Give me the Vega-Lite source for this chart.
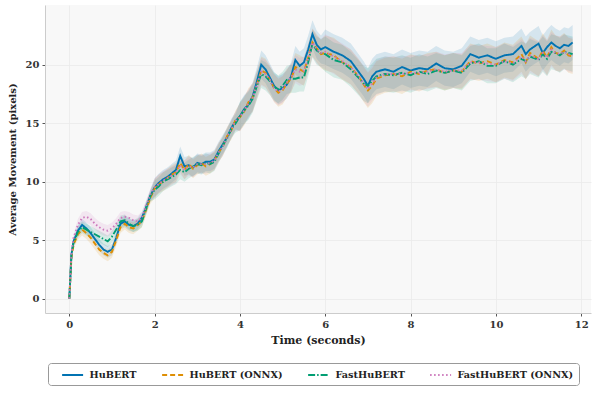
{
  "$schema": "https://vega.github.io/schema/vega-lite/v6.json",
  "width": 546,
  "height": 308,
  "autosize": {"type": "none"},
  "padding": {"left": 45, "top": 5, "right": 2, "bottom": 87},
  "background": "white",
  "config": {
    "view": {"fill": "#f8f8f8", "stroke": null},
    "font": "DejaVu Serif",
    "axis": {
      "labelFont": "DejaVu Serif",
      "labelFontWeight": "bold",
      "labelFontSize": 10,
      "labelColor": "#333333",
      "titleFont": "DejaVu Serif",
      "titleFontWeight": "bold",
      "titleFontSize": 11,
      "titleColor": "#222222",
      "domainColor": "#cccccc",
      "tickColor": "#555555",
      "tickSize": 3,
      "gridColor": "#eaeaea",
      "gridWidth": 0.8
    },
    "legend": {
      "orient": "none",
      "legendX": 3,
      "legendY": 358,
      "direction": "horizontal",
      "columns": 4,
      "symbolType": "M0.5,0H4.5",
      "symbolSize": 110,
      "symbolStrokeWidth": 2,
      "labelFont": "DejaVu Serif",
      "labelFontWeight": "bold",
      "labelFontSize": 9.7,
      "labelColor": "#222222",
      "labelOffset": 23.5,
      "columnPadding": 16,
      "strokeColor": "#999999",
      "fillColor": "white",
      "padding": 5,
      "cornerRadius": 3,
      "labelLimit": 200
    }
  },
  "data": {
    "values": [
      {"t":0,"s":"HuBERT","m":0,"lo":-0.1,"hi":0.1},
      {"t":0.05,"s":"HuBERT","m":3.8,"lo":3.5,"hi":4.1},
      {"t":0.1,"s":"HuBERT","m":4.9,"lo":4.6,"hi":5.2},
      {"t":0.2,"s":"HuBERT","m":5.8,"lo":5.3,"hi":6.3},
      {"t":0.3,"s":"HuBERT","m":6.3,"lo":5.8,"hi":6.8},
      {"t":0.4,"s":"HuBERT","m":6.0,"lo":5.5,"hi":6.5},
      {"t":0.5,"s":"HuBERT","m":5.6,"lo":5.1,"hi":6.1},
      {"t":0.6,"s":"HuBERT","m":5.1,"lo":4.6,"hi":5.6},
      {"t":0.7,"s":"HuBERT","m":4.6,"lo":4.1,"hi":5.1},
      {"t":0.8,"s":"HuBERT","m":4.2,"lo":3.7,"hi":4.7},
      {"t":0.9,"s":"HuBERT","m":4.0,"lo":3.5,"hi":4.5},
      {"t":1.0,"s":"HuBERT","m":4.2,"lo":3.7,"hi":4.7},
      {"t":1.1,"s":"HuBERT","m":5.2,"lo":4.7,"hi":5.7},
      {"t":1.2,"s":"HuBERT","m":6.4,"lo":5.9,"hi":6.9},
      {"t":1.3,"s":"HuBERT","m":6.6,"lo":6.1,"hi":7.1},
      {"t":1.4,"s":"HuBERT","m":6.3,"lo":5.8,"hi":6.8},
      {"t":1.5,"s":"HuBERT","m":6.2,"lo":5.7,"hi":6.7},
      {"t":1.6,"s":"HuBERT","m":6.4,"lo":5.9,"hi":6.9},
      {"t":1.7,"s":"HuBERT","m":6.9,"lo":6.4,"hi":7.4},
      {"t":1.8,"s":"HuBERT","m":7.8,"lo":7.3,"hi":8.3},
      {"t":1.9,"s":"HuBERT","m":8.8,"lo":8.3,"hi":9.3},
      {"t":2.0,"s":"HuBERT","m":9.5,"lo":8.7,"hi":10.3},
      {"t":2.1,"s":"HuBERT","m":9.9,"lo":9.1,"hi":10.7},
      {"t":2.2,"s":"HuBERT","m":10.2,"lo":9.4,"hi":11.0},
      {"t":2.3,"s":"HuBERT","m":10.4,"lo":9.6,"hi":11.2},
      {"t":2.4,"s":"HuBERT","m":10.7,"lo":9.9,"hi":11.5},
      {"t":2.5,"s":"HuBERT","m":11.0,"lo":10.2,"hi":11.8},
      {"t":2.6,"s":"HuBERT","m":12.2,"lo":11.4,"hi":13.0},
      {"t":2.7,"s":"HuBERT","m":11.3,"lo":10.5,"hi":12.1},
      {"t":2.8,"s":"HuBERT","m":11.4,"lo":10.6,"hi":12.2},
      {"t":2.9,"s":"HuBERT","m":11.2,"lo":10.4,"hi":12.0},
      {"t":3.0,"s":"HuBERT","m":11.6,"lo":10.8,"hi":12.4},
      {"t":3.1,"s":"HuBERT","m":11.5,"lo":10.7,"hi":12.3},
      {"t":3.2,"s":"HuBERT","m":11.7,"lo":10.9,"hi":12.5},
      {"t":3.3,"s":"HuBERT","m":11.7,"lo":10.9,"hi":12.5},
      {"t":3.4,"s":"HuBERT","m":11.9,"lo":11.1,"hi":12.7},
      {"t":3.5,"s":"HuBERT","m":12.6,"lo":11.8,"hi":13.4},
      {"t":3.6,"s":"HuBERT","m":13.2,"lo":12.4,"hi":14.0},
      {"t":3.7,"s":"HuBERT","m":13.8,"lo":13.0,"hi":14.6},
      {"t":3.8,"s":"HuBERT","m":14.6,"lo":13.8,"hi":15.4},
      {"t":3.9,"s":"HuBERT","m":15.2,"lo":14.4,"hi":16.0},
      {"t":4.0,"s":"HuBERT","m":15.6,"lo":14.4,"hi":16.8},
      {"t":4.1,"s":"HuBERT","m":16.2,"lo":15.0,"hi":17.4},
      {"t":4.2,"s":"HuBERT","m":16.6,"lo":15.4,"hi":17.8},
      {"t":4.3,"s":"HuBERT","m":17.3,"lo":16.1,"hi":18.5},
      {"t":4.4,"s":"HuBERT","m":18.6,"lo":17.4,"hi":19.8},
      {"t":4.5,"s":"HuBERT","m":20.0,"lo":18.8,"hi":21.2},
      {"t":4.6,"s":"HuBERT","m":19.6,"lo":18.4,"hi":20.8},
      {"t":4.7,"s":"HuBERT","m":18.9,"lo":17.7,"hi":20.1},
      {"t":4.8,"s":"HuBERT","m":18.2,"lo":17.0,"hi":19.4},
      {"t":4.9,"s":"HuBERT","m":17.8,"lo":16.6,"hi":19.0},
      {"t":5.0,"s":"HuBERT","m":18.0,"lo":16.8,"hi":19.2},
      {"t":5.1,"s":"HuBERT","m":18.3,"lo":17.1,"hi":19.5},
      {"t":5.2,"s":"HuBERT","m":19.0,"lo":17.8,"hi":20.2},
      {"t":5.3,"s":"HuBERT","m":20.4,"lo":19.2,"hi":21.6},
      {"t":5.4,"s":"HuBERT","m":19.9,"lo":18.7,"hi":21.1},
      {"t":5.5,"s":"HuBERT","m":20.2,"lo":19.0,"hi":21.4},
      {"t":5.6,"s":"HuBERT","m":21.3,"lo":20.1,"hi":22.5},
      {"t":5.7,"s":"HuBERT","m":22.6,"lo":21.4,"hi":23.8},
      {"t":5.8,"s":"HuBERT","m":21.7,"lo":20.5,"hi":22.9},
      {"t":5.9,"s":"HuBERT","m":21.3,"lo":20.1,"hi":22.5},
      {"t":6.0,"s":"HuBERT","m":21.5,"lo":20.0,"hi":23.0},
      {"t":6.2,"s":"HuBERT","m":21.1,"lo":19.6,"hi":22.6},
      {"t":6.4,"s":"HuBERT","m":20.8,"lo":19.3,"hi":22.3},
      {"t":6.6,"s":"HuBERT","m":20.3,"lo":18.8,"hi":21.8},
      {"t":6.8,"s":"HuBERT","m":19.3,"lo":17.8,"hi":20.8},
      {"t":6.9,"s":"HuBERT","m":18.8,"lo":17.3,"hi":20.3},
      {"t":7.0,"s":"HuBERT","m":18.2,"lo":16.7,"hi":19.7},
      {"t":7.1,"s":"HuBERT","m":19.0,"lo":17.5,"hi":20.5},
      {"t":7.2,"s":"HuBERT","m":19.4,"lo":17.9,"hi":20.9},
      {"t":7.4,"s":"HuBERT","m":19.6,"lo":18.1,"hi":21.1},
      {"t":7.6,"s":"HuBERT","m":19.4,"lo":17.9,"hi":20.9},
      {"t":7.8,"s":"HuBERT","m":19.8,"lo":18.3,"hi":21.3},
      {"t":8.0,"s":"HuBERT","m":19.5,"lo":18.0,"hi":21.0},
      {"t":8.2,"s":"HuBERT","m":19.7,"lo":18.2,"hi":21.2},
      {"t":8.4,"s":"HuBERT","m":19.6,"lo":18.1,"hi":21.1},
      {"t":8.6,"s":"HuBERT","m":20.1,"lo":18.6,"hi":21.6},
      {"t":8.8,"s":"HuBERT","m":19.7,"lo":18.2,"hi":21.2},
      {"t":9.0,"s":"HuBERT","m":19.6,"lo":18.1,"hi":21.1},
      {"t":9.2,"s":"HuBERT","m":19.9,"lo":18.4,"hi":21.4},
      {"t":9.4,"s":"HuBERT","m":20.9,"lo":19.4,"hi":22.4},
      {"t":9.6,"s":"HuBERT","m":20.6,"lo":19.1,"hi":22.1},
      {"t":9.8,"s":"HuBERT","m":20.8,"lo":19.3,"hi":22.3},
      {"t":10.0,"s":"HuBERT","m":20.5,"lo":19.0,"hi":22.0},
      {"t":10.2,"s":"HuBERT","m":20.8,"lo":19.3,"hi":22.3},
      {"t":10.4,"s":"HuBERT","m":20.9,"lo":19.4,"hi":22.4},
      {"t":10.6,"s":"HuBERT","m":21.6,"lo":20.1,"hi":23.1},
      {"t":10.7,"s":"HuBERT","m":20.9,"lo":19.4,"hi":22.4},
      {"t":10.8,"s":"HuBERT","m":21.3,"lo":19.8,"hi":22.8},
      {"t":11.0,"s":"HuBERT","m":21.8,"lo":20.3,"hi":23.3},
      {"t":11.1,"s":"HuBERT","m":21.0,"lo":19.5,"hi":22.5},
      {"t":11.2,"s":"HuBERT","m":21.5,"lo":20.0,"hi":23.0},
      {"t":11.3,"s":"HuBERT","m":21.9,"lo":20.4,"hi":23.4},
      {"t":11.4,"s":"HuBERT","m":21.6,"lo":20.1,"hi":23.1},
      {"t":11.5,"s":"HuBERT","m":21.4,"lo":19.9,"hi":22.9},
      {"t":11.6,"s":"HuBERT","m":21.7,"lo":20.2,"hi":23.2},
      {"t":11.7,"s":"HuBERT","m":21.6,"lo":20.1,"hi":23.1},
      {"t":11.8,"s":"HuBERT","m":21.9,"lo":20.4,"hi":23.4},

      {"t":0,"s":"HuBERT (ONNX)","m":0,"lo":-0.1,"hi":0.1},
      {"t":0.05,"s":"HuBERT (ONNX)","m":3.5,"lo":3.2,"hi":3.8},
      {"t":0.1,"s":"HuBERT (ONNX)","m":4.6,"lo":4.3,"hi":4.9},
      {"t":0.2,"s":"HuBERT (ONNX)","m":5.5,"lo":5.0,"hi":6.0},
      {"t":0.3,"s":"HuBERT (ONNX)","m":5.9,"lo":5.4,"hi":6.4},
      {"t":0.4,"s":"HuBERT (ONNX)","m":5.6,"lo":5.1,"hi":6.1},
      {"t":0.5,"s":"HuBERT (ONNX)","m":5.2,"lo":4.7,"hi":5.7},
      {"t":0.6,"s":"HuBERT (ONNX)","m":4.7,"lo":4.2,"hi":5.2},
      {"t":0.7,"s":"HuBERT (ONNX)","m":4.2,"lo":3.7,"hi":4.7},
      {"t":0.8,"s":"HuBERT (ONNX)","m":3.9,"lo":3.4,"hi":4.4},
      {"t":0.9,"s":"HuBERT (ONNX)","m":3.7,"lo":3.2,"hi":4.2},
      {"t":1.0,"s":"HuBERT (ONNX)","m":4.0,"lo":3.5,"hi":4.5},
      {"t":1.1,"s":"HuBERT (ONNX)","m":5.0,"lo":4.5,"hi":5.5},
      {"t":1.2,"s":"HuBERT (ONNX)","m":6.1,"lo":5.6,"hi":6.6},
      {"t":1.3,"s":"HuBERT (ONNX)","m":6.4,"lo":5.9,"hi":6.9},
      {"t":1.4,"s":"HuBERT (ONNX)","m":6.1,"lo":5.6,"hi":6.6},
      {"t":1.5,"s":"HuBERT (ONNX)","m":6.0,"lo":5.5,"hi":6.5},
      {"t":1.6,"s":"HuBERT (ONNX)","m":6.3,"lo":5.8,"hi":6.8},
      {"t":1.7,"s":"HuBERT (ONNX)","m":6.6,"lo":6.1,"hi":7.1},
      {"t":1.8,"s":"HuBERT (ONNX)","m":7.6,"lo":7.1,"hi":8.1},
      {"t":1.9,"s":"HuBERT (ONNX)","m":8.6,"lo":8.1,"hi":9.1},
      {"t":2.0,"s":"HuBERT (ONNX)","m":9.4,"lo":8.6,"hi":10.2},
      {"t":2.1,"s":"HuBERT (ONNX)","m":9.8,"lo":9.0,"hi":10.6},
      {"t":2.2,"s":"HuBERT (ONNX)","m":10.0,"lo":9.2,"hi":10.8},
      {"t":2.3,"s":"HuBERT (ONNX)","m":10.3,"lo":9.5,"hi":11.1},
      {"t":2.4,"s":"HuBERT (ONNX)","m":10.6,"lo":9.8,"hi":11.4},
      {"t":2.5,"s":"HuBERT (ONNX)","m":10.8,"lo":10.0,"hi":11.6},
      {"t":2.6,"s":"HuBERT (ONNX)","m":11.6,"lo":10.8,"hi":12.4},
      {"t":2.7,"s":"HuBERT (ONNX)","m":11.0,"lo":10.2,"hi":11.8},
      {"t":2.8,"s":"HuBERT (ONNX)","m":11.5,"lo":10.7,"hi":12.3},
      {"t":2.9,"s":"HuBERT (ONNX)","m":11.1,"lo":10.3,"hi":11.9},
      {"t":3.0,"s":"HuBERT (ONNX)","m":11.4,"lo":10.6,"hi":12.2},
      {"t":3.1,"s":"HuBERT (ONNX)","m":11.6,"lo":10.8,"hi":12.4},
      {"t":3.2,"s":"HuBERT (ONNX)","m":11.3,"lo":10.5,"hi":12.1},
      {"t":3.3,"s":"HuBERT (ONNX)","m":11.5,"lo":10.7,"hi":12.3},
      {"t":3.4,"s":"HuBERT (ONNX)","m":11.8,"lo":11.0,"hi":12.6},
      {"t":3.5,"s":"HuBERT (ONNX)","m":12.5,"lo":11.7,"hi":13.3},
      {"t":3.6,"s":"HuBERT (ONNX)","m":13.0,"lo":12.2,"hi":13.8},
      {"t":3.7,"s":"HuBERT (ONNX)","m":13.9,"lo":13.1,"hi":14.7},
      {"t":3.8,"s":"HuBERT (ONNX)","m":14.4,"lo":13.6,"hi":15.2},
      {"t":3.9,"s":"HuBERT (ONNX)","m":15.3,"lo":14.5,"hi":16.1},
      {"t":4.0,"s":"HuBERT (ONNX)","m":15.5,"lo":14.3,"hi":16.7},
      {"t":4.1,"s":"HuBERT (ONNX)","m":16.0,"lo":14.8,"hi":17.2},
      {"t":4.2,"s":"HuBERT (ONNX)","m":16.8,"lo":15.6,"hi":18.0},
      {"t":4.3,"s":"HuBERT (ONNX)","m":17.2,"lo":16.0,"hi":18.4},
      {"t":4.4,"s":"HuBERT (ONNX)","m":18.3,"lo":17.1,"hi":19.5},
      {"t":4.5,"s":"HuBERT (ONNX)","m":19.5,"lo":18.3,"hi":20.7},
      {"t":4.6,"s":"HuBERT (ONNX)","m":19.3,"lo":18.1,"hi":20.5},
      {"t":4.7,"s":"HuBERT (ONNX)","m":18.7,"lo":17.5,"hi":19.9},
      {"t":4.8,"s":"HuBERT (ONNX)","m":18.0,"lo":16.8,"hi":19.2},
      {"t":4.9,"s":"HuBERT (ONNX)","m":17.6,"lo":16.4,"hi":18.8},
      {"t":5.0,"s":"HuBERT (ONNX)","m":17.8,"lo":16.6,"hi":19.0},
      {"t":5.1,"s":"HuBERT (ONNX)","m":18.4,"lo":17.2,"hi":19.6},
      {"t":5.2,"s":"HuBERT (ONNX)","m":18.8,"lo":17.6,"hi":20.0},
      {"t":5.3,"s":"HuBERT (ONNX)","m":19.8,"lo":18.6,"hi":21.0},
      {"t":5.4,"s":"HuBERT (ONNX)","m":19.6,"lo":18.4,"hi":20.8},
      {"t":5.5,"s":"HuBERT (ONNX)","m":19.4,"lo":18.2,"hi":20.6},
      {"t":5.6,"s":"HuBERT (ONNX)","m":20.6,"lo":19.4,"hi":21.8},
      {"t":5.7,"s":"HuBERT (ONNX)","m":21.9,"lo":20.7,"hi":23.1},
      {"t":5.8,"s":"HuBERT (ONNX)","m":21.4,"lo":20.2,"hi":22.6},
      {"t":5.9,"s":"HuBERT (ONNX)","m":20.9,"lo":19.7,"hi":22.1},
      {"t":6.0,"s":"HuBERT (ONNX)","m":21.0,"lo":19.5,"hi":22.5},
      {"t":6.2,"s":"HuBERT (ONNX)","m":20.8,"lo":19.3,"hi":22.3},
      {"t":6.4,"s":"HuBERT (ONNX)","m":20.2,"lo":18.7,"hi":21.7},
      {"t":6.6,"s":"HuBERT (ONNX)","m":19.8,"lo":18.3,"hi":21.3},
      {"t":6.8,"s":"HuBERT (ONNX)","m":18.9,"lo":17.4,"hi":20.4},
      {"t":6.9,"s":"HuBERT (ONNX)","m":18.3,"lo":16.8,"hi":19.8},
      {"t":7.0,"s":"HuBERT (ONNX)","m":17.8,"lo":16.3,"hi":19.3},
      {"t":7.1,"s":"HuBERT (ONNX)","m":18.2,"lo":16.7,"hi":19.7},
      {"t":7.2,"s":"HuBERT (ONNX)","m":18.8,"lo":17.3,"hi":20.3},
      {"t":7.4,"s":"HuBERT (ONNX)","m":19.1,"lo":17.6,"hi":20.6},
      {"t":7.6,"s":"HuBERT (ONNX)","m":19.2,"lo":17.7,"hi":20.7},
      {"t":7.8,"s":"HuBERT (ONNX)","m":19.0,"lo":17.5,"hi":20.5},
      {"t":8.0,"s":"HuBERT (ONNX)","m":19.4,"lo":17.9,"hi":20.9},
      {"t":8.2,"s":"HuBERT (ONNX)","m":19.2,"lo":17.7,"hi":20.7},
      {"t":8.4,"s":"HuBERT (ONNX)","m":19.5,"lo":18.0,"hi":21.0},
      {"t":8.6,"s":"HuBERT (ONNX)","m":19.6,"lo":18.1,"hi":21.1},
      {"t":8.8,"s":"HuBERT (ONNX)","m":19.3,"lo":17.8,"hi":20.8},
      {"t":9.0,"s":"HuBERT (ONNX)","m":19.5,"lo":18.0,"hi":21.0},
      {"t":9.2,"s":"HuBERT (ONNX)","m":19.4,"lo":17.9,"hi":20.9},
      {"t":9.4,"s":"HuBERT (ONNX)","m":20.3,"lo":18.8,"hi":21.8},
      {"t":9.6,"s":"HuBERT (ONNX)","m":20.1,"lo":18.6,"hi":21.6},
      {"t":9.8,"s":"HuBERT (ONNX)","m":20.3,"lo":18.8,"hi":21.8},
      {"t":10.0,"s":"HuBERT (ONNX)","m":20.0,"lo":18.5,"hi":21.5},
      {"t":10.2,"s":"HuBERT (ONNX)","m":20.4,"lo":18.9,"hi":21.9},
      {"t":10.4,"s":"HuBERT (ONNX)","m":20.2,"lo":18.7,"hi":21.7},
      {"t":10.6,"s":"HuBERT (ONNX)","m":20.9,"lo":19.4,"hi":22.4},
      {"t":10.7,"s":"HuBERT (ONNX)","m":20.2,"lo":18.7,"hi":21.7},
      {"t":10.8,"s":"HuBERT (ONNX)","m":21.0,"lo":19.5,"hi":22.5},
      {"t":11.0,"s":"HuBERT (ONNX)","m":20.5,"lo":19.0,"hi":22.0},
      {"t":11.1,"s":"HuBERT (ONNX)","m":21.2,"lo":19.7,"hi":22.7},
      {"t":11.2,"s":"HuBERT (ONNX)","m":20.6,"lo":19.1,"hi":22.1},
      {"t":11.3,"s":"HuBERT (ONNX)","m":21.5,"lo":20.0,"hi":23.0},
      {"t":11.4,"s":"HuBERT (ONNX)","m":21.0,"lo":19.5,"hi":22.5},
      {"t":11.5,"s":"HuBERT (ONNX)","m":20.9,"lo":19.4,"hi":22.4},
      {"t":11.6,"s":"HuBERT (ONNX)","m":21.2,"lo":19.7,"hi":22.7},
      {"t":11.7,"s":"HuBERT (ONNX)","m":20.8,"lo":19.3,"hi":22.3},
      {"t":11.8,"s":"HuBERT (ONNX)","m":20.7,"lo":19.2,"hi":22.2},

      {"t":0,"s":"FastHuBERT","m":0,"lo":-0.1,"hi":0.1},
      {"t":0.05,"s":"FastHuBERT","m":3.7,"lo":3.4,"hi":4.0},
      {"t":0.1,"s":"FastHuBERT","m":4.8,"lo":4.5,"hi":5.1},
      {"t":0.2,"s":"FastHuBERT","m":5.7,"lo":5.2,"hi":6.2},
      {"t":0.3,"s":"FastHuBERT","m":6.1,"lo":5.6,"hi":6.6},
      {"t":0.4,"s":"FastHuBERT","m":5.9,"lo":5.4,"hi":6.4},
      {"t":0.5,"s":"FastHuBERT","m":5.7,"lo":5.2,"hi":6.2},
      {"t":0.6,"s":"FastHuBERT","m":5.5,"lo":5.0,"hi":6.0},
      {"t":0.7,"s":"FastHuBERT","m":5.3,"lo":4.8,"hi":5.8},
      {"t":0.8,"s":"FastHuBERT","m":5.1,"lo":4.6,"hi":5.6},
      {"t":0.9,"s":"FastHuBERT","m":4.9,"lo":4.4,"hi":5.4},
      {"t":1.0,"s":"FastHuBERT","m":5.3,"lo":4.8,"hi":5.8},
      {"t":1.1,"s":"FastHuBERT","m":5.9,"lo":5.4,"hi":6.4},
      {"t":1.2,"s":"FastHuBERT","m":6.6,"lo":6.1,"hi":7.1},
      {"t":1.3,"s":"FastHuBERT","m":6.7,"lo":6.2,"hi":7.2},
      {"t":1.4,"s":"FastHuBERT","m":6.4,"lo":5.9,"hi":6.9},
      {"t":1.5,"s":"FastHuBERT","m":6.2,"lo":5.7,"hi":6.7},
      {"t":1.6,"s":"FastHuBERT","m":6.3,"lo":5.8,"hi":6.8},
      {"t":1.7,"s":"FastHuBERT","m":6.6,"lo":6.1,"hi":7.1},
      {"t":1.8,"s":"FastHuBERT","m":7.7,"lo":7.2,"hi":8.2},
      {"t":1.9,"s":"FastHuBERT","m":8.8,"lo":8.3,"hi":9.3},
      {"t":2.0,"s":"FastHuBERT","m":9.3,"lo":8.5,"hi":10.1},
      {"t":2.1,"s":"FastHuBERT","m":9.6,"lo":8.8,"hi":10.4},
      {"t":2.2,"s":"FastHuBERT","m":10.0,"lo":9.2,"hi":10.8},
      {"t":2.3,"s":"FastHuBERT","m":10.2,"lo":9.4,"hi":11.0},
      {"t":2.4,"s":"FastHuBERT","m":10.4,"lo":9.6,"hi":11.2},
      {"t":2.5,"s":"FastHuBERT","m":10.6,"lo":9.8,"hi":11.4},
      {"t":2.6,"s":"FastHuBERT","m":11.0,"lo":10.2,"hi":11.8},
      {"t":2.7,"s":"FastHuBERT","m":10.8,"lo":10.0,"hi":11.6},
      {"t":2.8,"s":"FastHuBERT","m":11.1,"lo":10.3,"hi":11.9},
      {"t":2.9,"s":"FastHuBERT","m":11.3,"lo":10.5,"hi":12.1},
      {"t":3.0,"s":"FastHuBERT","m":11.5,"lo":10.7,"hi":12.3},
      {"t":3.1,"s":"FastHuBERT","m":11.4,"lo":10.6,"hi":12.2},
      {"t":3.2,"s":"FastHuBERT","m":11.6,"lo":10.8,"hi":12.4},
      {"t":3.3,"s":"FastHuBERT","m":11.5,"lo":10.7,"hi":12.3},
      {"t":3.4,"s":"FastHuBERT","m":11.7,"lo":10.9,"hi":12.5},
      {"t":3.5,"s":"FastHuBERT","m":12.4,"lo":11.6,"hi":13.2},
      {"t":3.6,"s":"FastHuBERT","m":13.1,"lo":12.3,"hi":13.9},
      {"t":3.7,"s":"FastHuBERT","m":13.7,"lo":12.9,"hi":14.5},
      {"t":3.8,"s":"FastHuBERT","m":14.5,"lo":13.7,"hi":15.3},
      {"t":3.9,"s":"FastHuBERT","m":15.0,"lo":14.2,"hi":15.8},
      {"t":4.0,"s":"FastHuBERT","m":15.6,"lo":14.4,"hi":16.8},
      {"t":4.1,"s":"FastHuBERT","m":16.1,"lo":14.9,"hi":17.3},
      {"t":4.2,"s":"FastHuBERT","m":16.5,"lo":15.3,"hi":17.7},
      {"t":4.3,"s":"FastHuBERT","m":17.1,"lo":15.9,"hi":18.3},
      {"t":4.4,"s":"FastHuBERT","m":18.2,"lo":17.0,"hi":19.4},
      {"t":4.5,"s":"FastHuBERT","m":19.2,"lo":18.0,"hi":20.4},
      {"t":4.6,"s":"FastHuBERT","m":19.0,"lo":17.8,"hi":20.2},
      {"t":4.7,"s":"FastHuBERT","m":18.6,"lo":17.4,"hi":19.8},
      {"t":4.8,"s":"FastHuBERT","m":18.1,"lo":16.9,"hi":19.3},
      {"t":4.9,"s":"FastHuBERT","m":17.9,"lo":16.7,"hi":19.1},
      {"t":5.0,"s":"FastHuBERT","m":18.2,"lo":17.0,"hi":19.4},
      {"t":5.1,"s":"FastHuBERT","m":18.7,"lo":17.5,"hi":19.9},
      {"t":5.2,"s":"FastHuBERT","m":18.8,"lo":17.6,"hi":20.0},
      {"t":5.3,"s":"FastHuBERT","m":18.8,"lo":17.6,"hi":20.0},
      {"t":5.4,"s":"FastHuBERT","m":18.9,"lo":17.7,"hi":20.1},
      {"t":5.5,"s":"FastHuBERT","m":18.9,"lo":17.7,"hi":20.1},
      {"t":5.6,"s":"FastHuBERT","m":20.2,"lo":19.0,"hi":21.4},
      {"t":5.7,"s":"FastHuBERT","m":21.8,"lo":20.6,"hi":23.0},
      {"t":5.8,"s":"FastHuBERT","m":21.2,"lo":20.0,"hi":22.4},
      {"t":5.9,"s":"FastHuBERT","m":21.0,"lo":19.8,"hi":22.2},
      {"t":6.0,"s":"FastHuBERT","m":20.9,"lo":19.4,"hi":22.4},
      {"t":6.2,"s":"FastHuBERT","m":20.4,"lo":18.9,"hi":21.9},
      {"t":6.4,"s":"FastHuBERT","m":20.2,"lo":18.7,"hi":21.7},
      {"t":6.6,"s":"FastHuBERT","m":19.6,"lo":18.1,"hi":21.1},
      {"t":6.8,"s":"FastHuBERT","m":18.8,"lo":17.3,"hi":20.3},
      {"t":6.9,"s":"FastHuBERT","m":18.4,"lo":16.9,"hi":19.9},
      {"t":7.0,"s":"FastHuBERT","m":18.2,"lo":16.7,"hi":19.7},
      {"t":7.1,"s":"FastHuBERT","m":18.6,"lo":17.1,"hi":20.1},
      {"t":7.2,"s":"FastHuBERT","m":19.0,"lo":17.5,"hi":20.5},
      {"t":7.4,"s":"FastHuBERT","m":19.2,"lo":17.7,"hi":20.7},
      {"t":7.6,"s":"FastHuBERT","m":19.1,"lo":17.6,"hi":20.6},
      {"t":7.8,"s":"FastHuBERT","m":19.3,"lo":17.8,"hi":20.8},
      {"t":8.0,"s":"FastHuBERT","m":19.1,"lo":17.6,"hi":20.6},
      {"t":8.2,"s":"FastHuBERT","m":19.4,"lo":17.9,"hi":20.9},
      {"t":8.4,"s":"FastHuBERT","m":19.2,"lo":17.7,"hi":20.7},
      {"t":8.6,"s":"FastHuBERT","m":19.5,"lo":18.0,"hi":21.0},
      {"t":8.8,"s":"FastHuBERT","m":19.3,"lo":17.8,"hi":20.8},
      {"t":9.0,"s":"FastHuBERT","m":19.5,"lo":18.0,"hi":21.0},
      {"t":9.2,"s":"FastHuBERT","m":19.3,"lo":17.8,"hi":20.8},
      {"t":9.4,"s":"FastHuBERT","m":20.1,"lo":18.6,"hi":21.6},
      {"t":9.6,"s":"FastHuBERT","m":20.3,"lo":18.8,"hi":21.8},
      {"t":9.8,"s":"FastHuBERT","m":19.9,"lo":18.4,"hi":21.4},
      {"t":10.0,"s":"FastHuBERT","m":19.9,"lo":18.4,"hi":21.4},
      {"t":10.2,"s":"FastHuBERT","m":20.3,"lo":18.8,"hi":21.8},
      {"t":10.4,"s":"FastHuBERT","m":20.0,"lo":18.5,"hi":21.5},
      {"t":10.6,"s":"FastHuBERT","m":20.5,"lo":19.0,"hi":22.0},
      {"t":10.7,"s":"FastHuBERT","m":20.3,"lo":18.8,"hi":21.8},
      {"t":10.8,"s":"FastHuBERT","m":20.7,"lo":19.2,"hi":22.2},
      {"t":11.0,"s":"FastHuBERT","m":20.4,"lo":18.9,"hi":21.9},
      {"t":11.1,"s":"FastHuBERT","m":20.9,"lo":19.4,"hi":22.4},
      {"t":11.2,"s":"FastHuBERT","m":20.5,"lo":19.0,"hi":22.0},
      {"t":11.3,"s":"FastHuBERT","m":21.1,"lo":19.6,"hi":22.6},
      {"t":11.4,"s":"FastHuBERT","m":21.0,"lo":19.5,"hi":22.5},
      {"t":11.5,"s":"FastHuBERT","m":20.8,"lo":19.3,"hi":22.3},
      {"t":11.6,"s":"FastHuBERT","m":21.1,"lo":19.6,"hi":22.6},
      {"t":11.7,"s":"FastHuBERT","m":21.0,"lo":19.5,"hi":22.5},
      {"t":11.8,"s":"FastHuBERT","m":20.9,"lo":19.4,"hi":22.4},

      {"t":0,"s":"FastHuBERT (ONNX)","m":0,"lo":-0.1,"hi":0.1},
      {"t":0.05,"s":"FastHuBERT (ONNX)","m":3.9,"lo":3.6,"hi":4.2},
      {"t":0.1,"s":"FastHuBERT (ONNX)","m":5.2,"lo":4.9,"hi":5.5},
      {"t":0.2,"s":"FastHuBERT (ONNX)","m":6.3,"lo":5.8,"hi":6.8},
      {"t":0.3,"s":"FastHuBERT (ONNX)","m":6.9,"lo":6.4,"hi":7.4},
      {"t":0.4,"s":"FastHuBERT (ONNX)","m":7.0,"lo":6.5,"hi":7.5},
      {"t":0.5,"s":"FastHuBERT (ONNX)","m":6.8,"lo":6.3,"hi":7.3},
      {"t":0.6,"s":"FastHuBERT (ONNX)","m":6.4,"lo":5.9,"hi":6.9},
      {"t":0.7,"s":"FastHuBERT (ONNX)","m":6.1,"lo":5.6,"hi":6.6},
      {"t":0.8,"s":"FastHuBERT (ONNX)","m":5.9,"lo":5.4,"hi":6.4},
      {"t":0.9,"s":"FastHuBERT (ONNX)","m":5.8,"lo":5.3,"hi":6.3},
      {"t":1.0,"s":"FastHuBERT (ONNX)","m":6.0,"lo":5.5,"hi":6.5},
      {"t":1.1,"s":"FastHuBERT (ONNX)","m":6.4,"lo":5.9,"hi":6.9},
      {"t":1.2,"s":"FastHuBERT (ONNX)","m":6.9,"lo":6.4,"hi":7.4},
      {"t":1.3,"s":"FastHuBERT (ONNX)","m":7.0,"lo":6.5,"hi":7.5},
      {"t":1.4,"s":"FastHuBERT (ONNX)","m":6.9,"lo":6.4,"hi":7.4},
      {"t":1.5,"s":"FastHuBERT (ONNX)","m":6.7,"lo":6.2,"hi":7.2},
      {"t":1.6,"s":"FastHuBERT (ONNX)","m":6.6,"lo":6.1,"hi":7.1},
      {"t":1.7,"s":"FastHuBERT (ONNX)","m":6.9,"lo":6.4,"hi":7.4},
      {"t":1.8,"s":"FastHuBERT (ONNX)","m":7.9,"lo":7.4,"hi":8.4},
      {"t":1.9,"s":"FastHuBERT (ONNX)","m":8.9,"lo":8.4,"hi":9.4},
      {"t":2.0,"s":"FastHuBERT (ONNX)","m":9.5,"lo":8.7,"hi":10.3},
      {"t":2.1,"s":"FastHuBERT (ONNX)","m":9.8,"lo":9.0,"hi":10.6},
      {"t":2.2,"s":"FastHuBERT (ONNX)","m":10.1,"lo":9.3,"hi":10.9},
      {"t":2.3,"s":"FastHuBERT (ONNX)","m":10.3,"lo":9.5,"hi":11.1},
      {"t":2.4,"s":"FastHuBERT (ONNX)","m":10.5,"lo":9.7,"hi":11.3},
      {"t":2.5,"s":"FastHuBERT (ONNX)","m":10.7,"lo":9.9,"hi":11.5},
      {"t":2.6,"s":"FastHuBERT (ONNX)","m":11.4,"lo":10.6,"hi":12.2},
      {"t":2.7,"s":"FastHuBERT (ONNX)","m":11.0,"lo":10.2,"hi":11.8},
      {"t":2.8,"s":"FastHuBERT (ONNX)","m":11.3,"lo":10.5,"hi":12.1},
      {"t":2.9,"s":"FastHuBERT (ONNX)","m":11.2,"lo":10.4,"hi":12.0},
      {"t":3.0,"s":"FastHuBERT (ONNX)","m":11.5,"lo":10.7,"hi":12.3},
      {"t":3.1,"s":"FastHuBERT (ONNX)","m":11.5,"lo":10.7,"hi":12.3},
      {"t":3.2,"s":"FastHuBERT (ONNX)","m":11.5,"lo":10.7,"hi":12.3},
      {"t":3.3,"s":"FastHuBERT (ONNX)","m":11.6,"lo":10.8,"hi":12.4},
      {"t":3.4,"s":"FastHuBERT (ONNX)","m":11.8,"lo":11.0,"hi":12.6},
      {"t":3.5,"s":"FastHuBERT (ONNX)","m":12.5,"lo":11.7,"hi":13.3},
      {"t":3.6,"s":"FastHuBERT (ONNX)","m":13.0,"lo":12.2,"hi":13.8},
      {"t":3.7,"s":"FastHuBERT (ONNX)","m":13.8,"lo":13.0,"hi":14.6},
      {"t":3.8,"s":"FastHuBERT (ONNX)","m":14.5,"lo":13.7,"hi":15.3},
      {"t":3.9,"s":"FastHuBERT (ONNX)","m":15.2,"lo":14.4,"hi":16.0},
      {"t":4.0,"s":"FastHuBERT (ONNX)","m":15.5,"lo":14.3,"hi":16.7},
      {"t":4.1,"s":"FastHuBERT (ONNX)","m":16.1,"lo":14.9,"hi":17.3},
      {"t":4.2,"s":"FastHuBERT (ONNX)","m":16.7,"lo":15.5,"hi":17.9},
      {"t":4.3,"s":"FastHuBERT (ONNX)","m":17.2,"lo":16.0,"hi":18.4},
      {"t":4.4,"s":"FastHuBERT (ONNX)","m":18.3,"lo":17.1,"hi":19.5},
      {"t":4.5,"s":"FastHuBERT (ONNX)","m":19.4,"lo":18.2,"hi":20.6},
      {"t":4.6,"s":"FastHuBERT (ONNX)","m":19.2,"lo":18.0,"hi":20.4},
      {"t":4.7,"s":"FastHuBERT (ONNX)","m":18.7,"lo":17.5,"hi":19.9},
      {"t":4.8,"s":"FastHuBERT (ONNX)","m":18.0,"lo":16.8,"hi":19.2},
      {"t":4.9,"s":"FastHuBERT (ONNX)","m":17.7,"lo":16.5,"hi":18.9},
      {"t":5.0,"s":"FastHuBERT (ONNX)","m":17.9,"lo":16.7,"hi":19.1},
      {"t":5.1,"s":"FastHuBERT (ONNX)","m":18.5,"lo":17.3,"hi":19.7},
      {"t":5.2,"s":"FastHuBERT (ONNX)","m":18.9,"lo":17.7,"hi":20.1},
      {"t":5.3,"s":"FastHuBERT (ONNX)","m":19.6,"lo":18.4,"hi":20.8},
      {"t":5.4,"s":"FastHuBERT (ONNX)","m":19.4,"lo":18.2,"hi":20.6},
      {"t":5.5,"s":"FastHuBERT (ONNX)","m":19.5,"lo":18.3,"hi":20.7},
      {"t":5.6,"s":"FastHuBERT (ONNX)","m":20.5,"lo":19.3,"hi":21.7},
      {"t":5.7,"s":"FastHuBERT (ONNX)","m":21.9,"lo":20.7,"hi":23.1},
      {"t":5.8,"s":"FastHuBERT (ONNX)","m":21.3,"lo":20.1,"hi":22.5},
      {"t":5.9,"s":"FastHuBERT (ONNX)","m":21.0,"lo":19.8,"hi":22.2},
      {"t":6.0,"s":"FastHuBERT (ONNX)","m":21.1,"lo":19.6,"hi":22.6},
      {"t":6.2,"s":"FastHuBERT (ONNX)","m":20.7,"lo":19.2,"hi":22.2},
      {"t":6.4,"s":"FastHuBERT (ONNX)","m":20.3,"lo":18.8,"hi":21.8},
      {"t":6.6,"s":"FastHuBERT (ONNX)","m":19.8,"lo":18.3,"hi":21.3},
      {"t":6.8,"s":"FastHuBERT (ONNX)","m":18.9,"lo":17.4,"hi":20.4},
      {"t":6.9,"s":"FastHuBERT (ONNX)","m":18.4,"lo":16.9,"hi":19.9},
      {"t":7.0,"s":"FastHuBERT (ONNX)","m":17.9,"lo":16.4,"hi":19.4},
      {"t":7.1,"s":"FastHuBERT (ONNX)","m":18.4,"lo":16.9,"hi":19.9},
      {"t":7.2,"s":"FastHuBERT (ONNX)","m":18.9,"lo":17.4,"hi":20.4},
      {"t":7.4,"s":"FastHuBERT (ONNX)","m":19.2,"lo":17.7,"hi":20.7},
      {"t":7.6,"s":"FastHuBERT (ONNX)","m":19.2,"lo":17.7,"hi":20.7},
      {"t":7.8,"s":"FastHuBERT (ONNX)","m":19.2,"lo":17.7,"hi":20.7},
      {"t":8.0,"s":"FastHuBERT (ONNX)","m":19.3,"lo":17.8,"hi":20.8},
      {"t":8.2,"s":"FastHuBERT (ONNX)","m":19.3,"lo":17.8,"hi":20.8},
      {"t":8.4,"s":"FastHuBERT (ONNX)","m":19.4,"lo":17.9,"hi":20.9},
      {"t":8.6,"s":"FastHuBERT (ONNX)","m":19.6,"lo":18.1,"hi":21.1},
      {"t":8.8,"s":"FastHuBERT (ONNX)","m":19.4,"lo":17.9,"hi":20.9},
      {"t":9.0,"s":"FastHuBERT (ONNX)","m":19.5,"lo":18.0,"hi":21.0},
      {"t":9.2,"s":"FastHuBERT (ONNX)","m":19.5,"lo":18.0,"hi":21.0},
      {"t":9.4,"s":"FastHuBERT (ONNX)","m":20.2,"lo":18.7,"hi":21.7},
      {"t":9.6,"s":"FastHuBERT (ONNX)","m":20.2,"lo":18.7,"hi":21.7},
      {"t":9.8,"s":"FastHuBERT (ONNX)","m":20.1,"lo":18.6,"hi":21.6},
      {"t":10.0,"s":"FastHuBERT (ONNX)","m":20.0,"lo":18.5,"hi":21.5},
      {"t":10.2,"s":"FastHuBERT (ONNX)","m":20.3,"lo":18.8,"hi":21.8},
      {"t":10.4,"s":"FastHuBERT (ONNX)","m":20.1,"lo":18.6,"hi":21.6},
      {"t":10.6,"s":"FastHuBERT (ONNX)","m":20.7,"lo":19.2,"hi":22.2},
      {"t":10.7,"s":"FastHuBERT (ONNX)","m":20.3,"lo":18.8,"hi":21.8},
      {"t":10.8,"s":"FastHuBERT (ONNX)","m":20.8,"lo":19.3,"hi":22.3},
      {"t":11.0,"s":"FastHuBERT (ONNX)","m":20.5,"lo":19.0,"hi":22.0},
      {"t":11.1,"s":"FastHuBERT (ONNX)","m":21.0,"lo":19.5,"hi":22.5},
      {"t":11.2,"s":"FastHuBERT (ONNX)","m":20.6,"lo":19.1,"hi":22.1},
      {"t":11.3,"s":"FastHuBERT (ONNX)","m":21.3,"lo":19.8,"hi":22.8},
      {"t":11.4,"s":"FastHuBERT (ONNX)","m":21.0,"lo":19.5,"hi":22.5},
      {"t":11.5,"s":"FastHuBERT (ONNX)","m":20.9,"lo":19.4,"hi":22.4},
      {"t":11.6,"s":"FastHuBERT (ONNX)","m":21.1,"lo":19.6,"hi":22.6},
      {"t":11.7,"s":"FastHuBERT (ONNX)","m":20.9,"lo":19.4,"hi":22.4},
      {"t":11.8,"s":"FastHuBERT (ONNX)","m":20.8,"lo":19.3,"hi":22.3}
    ]
  },
  "encoding": {
    "x": {
      "field": "t",
      "type": "quantitative",
      "scale": {"domain": [-0.57, 12.23], "nice": false, "zero": false},
      "axis": {"title": "Time (seconds)", "values": [0, 2, 4, 6, 8, 10, 12], "titlePadding": 5, "labelPadding": 3}
    }
  },
  "layer": [
    {
      "mark": {"type": "area", "opacity": 0.14},
      "encoding": {
        "y": {
          "field": "lo",
          "type": "quantitative",
          "scale": {"domain": [-1.23, 25.1], "nice": false, "zero": false},
          "axis": {"title": "Average Movement (pixels)", "values": [0, 5, 10, 15, 20], "titlePadding": 8, "labelPadding": 3, "titleFontSize": 10}
        },
        "y2": {"field": "hi"},
        "fill": {
          "field": "s",
          "type": "nominal",
          "scale": {
            "domain": ["FastHuBERT (ONNX)", "FastHuBERT", "HuBERT (ONNX)", "HuBERT"],
            "range": ["#cc78bc", "#029e73", "#de8f05", "#0173b2"]
          },
          "legend": null
        }
      }
    },
    {
      "mark": {"type": "line", "strokeWidth": 1.9},
      "encoding": {
        "y": {
          "field": "m",
          "type": "quantitative",
          "axis": {"title": "Average Movement (pixels)", "values": [0, 5, 10, 15, 20], "titlePadding": 8, "labelPadding": 3, "titleFontSize": 10}
        },
        "color": {
          "field": "s",
          "type": "nominal",
          "scale": {
            "domain": ["HuBERT", "HuBERT (ONNX)", "FastHuBERT", "FastHuBERT (ONNX)"],
            "range": ["#0173b2", "#de8f05", "#029e73", "#cc78bc"]
          },
          "legend": {"title": null}
        },
        "strokeDash": {
          "field": "s",
          "type": "nominal",
          "scale": {
            "domain": ["HuBERT", "HuBERT (ONNX)", "FastHuBERT", "FastHuBERT (ONNX)"],
            "range": [[1, 0], [5, 3], [7, 2, 1.5, 2], [1.5, 2.5]]
          },
          "legend": {"title": null}
        }
      }
    }
  ]
}
